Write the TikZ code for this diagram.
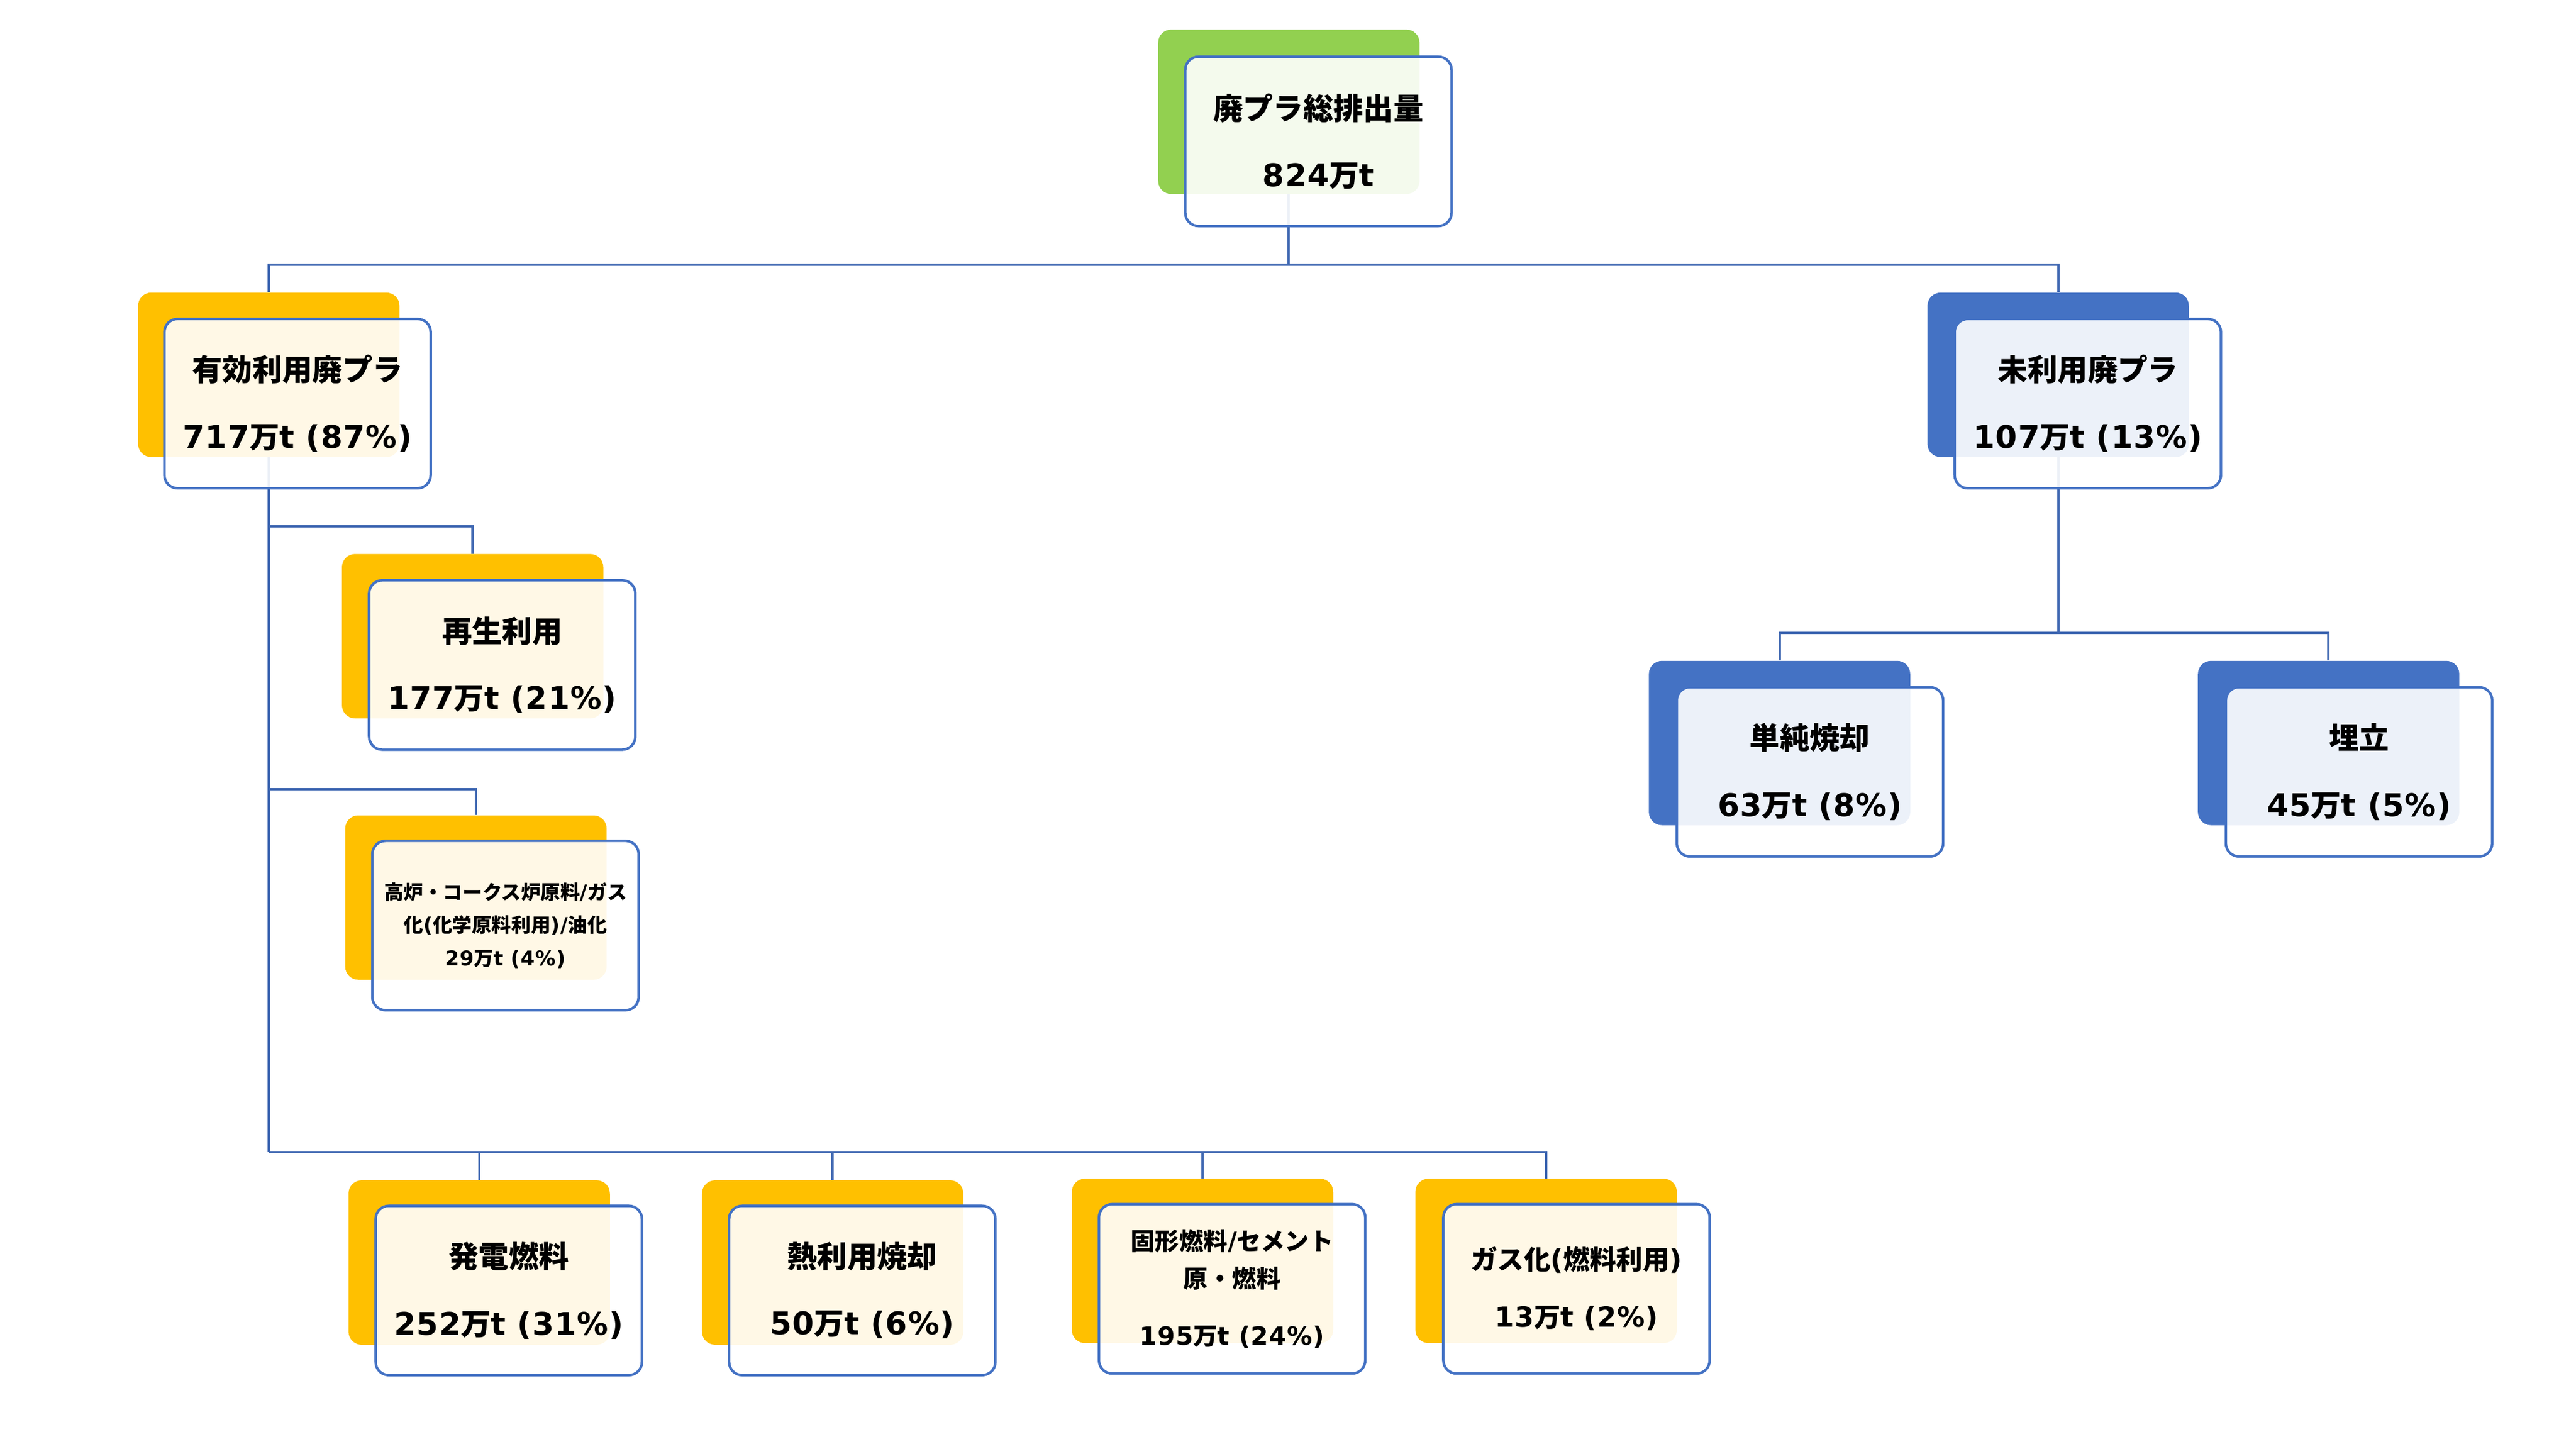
\documentclass[tikz,border=0pt]{standalone}
\usepackage{fontspec}
\setmainfont{DejaVu Sans}[Scale=1.04, LetterSpace=2]
\newfontfamily\jp{Noto Sans CJK JP}
\newcommand\man{{\jp 万}}
\definecolor{yelc}{HTML}{FFC000}
\definecolor{grnc}{HTML}{92D050}
\definecolor{bluc}{HTML}{4472C4}
\definecolor{linec}{HTML}{4068B2}
\tikzset{
  card/.style={draw=bluc, line width=2.2pt, rounded corners=4mm, fill=white, fill opacity=0.9, text opacity=1,
    minimum width=81mm, minimum height=51.5mm, inner sep=0pt, align=center, font=\fontsize{26}{58}\selectfont\bfseries},
  back/.style={fill=#1, rounded corners=4mm, minimum width=79.5mm, minimum height=50mm, inner sep=0pt},
  link/.style={draw=linec, line width=2pt}
}
\begin{document}
\begin{tikzpicture}[x=0.5mm, y=-0.5mm]
	\useasboundingbox (0,0) rectangle (1567,881.4);
	% back plates
	\node[back=grnc] (topbg) at (784,68) {};
	\node[back=yelc] (leftbg) at (163.5,228) {};
	\node[back=bluc] (rightbg) at (1252,228) {};
	\node[back=yelc] (saiseibg) at (287.5,387) {};
	\node[back=yelc] (korobg) at (289.5,546) {};
	\node[back=yelc] (hatsudenbg) at (291.5,768) {};
	\node[back=yelc] (netsubg) at (506.5,768) {};
	\node[back=yelc] (kokeibg) at (731.5,767) {};
	\node[back=yelc] (gasubg) at (940.5,767) {};
	\node[back=bluc] (tanjunbg) at (1082.5,452) {};
	\node[back=bluc] (umetatebg) at (1416.5,452) {};
	% connectors
	\coordinate (j0) at (784,161);
	\coordinate (j1) at (163.5,320);
	\coordinate (j2) at (163.5,480);
	\coordinate (j3) at (163.5,701);
	\coordinate (j4) at (1252,385);
	\draw[link] (topbg.south) -- (j0);
	\draw[link] (leftbg.north) |- (j0) -| (rightbg.north);
	\draw[link] (leftbg.south) -- (j3);
	\draw[link] (j1) -| (saiseibg.north);
	\draw[link] (j2) -| (korobg.north);
	\draw[link] (j3) -| (gasubg.north);
	\foreach \n in {hatsudenbg,netsubg,kokeibg}
		\draw[link] (\n.north) -- (\n.north |- j3);
	\draw[link] (rightbg.south) -- (j4);
	\draw[link] (tanjunbg.north) |- (j4) -| (umetatebg.north);
	% front cards
	\node[card] (top) at (802,86) {{\jp 廃プラ総排出量}\\824\man t};
	\node[card] (left) at (181,245.5) {{\jp 有効利用廃プラ}\\717\man t (87\%)};
	\node[card] (right) at (1270,245.5) {{\jp 未利用廃プラ}\\107\man t (13\%)};
	\node[card] (saisei) at (305.5,404.5) {{\jp 再生利用}\\177\man t (21\%)};
	\node[card, font=\fontsize{17}{28.4}\selectfont\bfseries] (koro) at (307.5,563)
		{{\jp 高炉・コークス炉原料}/{\jp ガス}\\{\jp 化}({\jp 化学原料利用})/{\jp 油化}\\29\man t (4\%)};
	\node[card] (hatsuden) at (309.5,785) {{\jp 発電燃料}\\252\man t (31\%)};
	\node[card] (netsu) at (524.5,785) {{\jp 熱利用焼却}\\50\man t (6\%)};
	\node[card, font=\fontsize{21}{32.7}\selectfont\bfseries] (kokei) at (749.5,784)
		{{\jp 固形燃料}/{\jp セメント}\\{\jp 原・燃料}\\[17pt]195\man t (24\%)};
	\node[card, font=\fontsize{23}{49.7}\selectfont\bfseries] (gasu) at (959,784)
		{{\jp ガス化}({\jp 燃料利用})\\13\man t (2\%)};
	\node[card] (tanjun) at (1101,469.5) {{\jp 単純焼却}\\63\man t (8\%)};
	\node[card] (umetate) at (1435,469.5) {{\jp 埋立}\\45\man t (5\%)};
\end{tikzpicture}
\end{document}
